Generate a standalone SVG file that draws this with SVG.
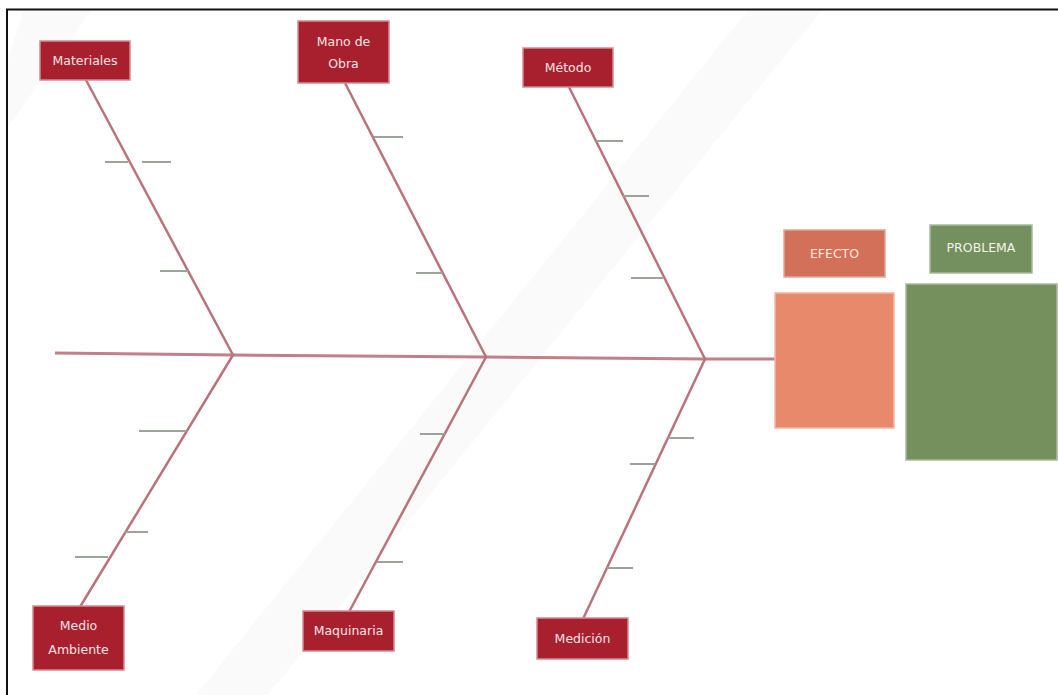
<svg xmlns="http://www.w3.org/2000/svg" width="1058" height="695" viewBox="0 0 1058 695">
  <style>
    .cause rect { fill: #a8202e; stroke: #d58a92; stroke-width: 1.5; }
    .cause text { fill: #f6e4e4; font-family: "Comic Sans MS", "DejaVu Sans", sans-serif; font-size: 12.5px; text-anchor: middle; }
    .bone { stroke: #b9737c; stroke-width: 2.5; fill: none; stroke-linecap: round; }
    .spine { stroke: #c08089; stroke-width: 3; fill: none; }
    .tick { stroke: #9ba39b; stroke-width: 2; fill: none; }
    .head text { font-family: "Comic Sans MS", "DejaVu Sans", sans-serif; font-size: 12.5px; text-anchor: middle; }
  </style>

  <!-- page -->
  <rect x="0" y="0" width="1058" height="695" fill="#ffffff"/>
  <!-- faint diagonal backdrop bands -->
  <polygon points="748,10 822,10 268,695 196,695" fill="#f7f8f6" opacity="0.7"/>
  <polygon points="24,10 92,10 7,128 7,62" fill="#f7f8f6" opacity="0.7"/>
  <!-- frame -->
  <rect x="7" y="9.5" width="1060" height="700" fill="none" stroke="#111" stroke-width="2"/>

  <!-- connectors: spine, bones and sub-cause ticks -->
  <g id="connectors">
    <polyline class="spine" points="55,353 233,355 486,357 705,359 776,359"/>

    <line class="bone" x1="86" y1="80" x2="233" y2="355"/>
    <line class="bone" x1="345" y1="83" x2="486" y2="357"/>
    <line class="bone" x1="569" y1="87" x2="705" y2="359"/>
    <line class="bone" x1="233" y1="355" x2="80" y2="607"/>
    <line class="bone" x1="486" y1="357" x2="349" y2="612"/>
    <line class="bone" x1="705" y1="359" x2="583" y2="619"/>

    <!-- Materiales -->
    <line class="tick" x1="105" y1="162" x2="128" y2="162"/>
    <line class="tick" x1="142" y1="162" x2="171" y2="162"/>
    <line class="tick" x1="160" y1="271" x2="188" y2="271"/>
    <!-- Mano de Obra -->
    <line class="tick" x1="374" y1="137" x2="403" y2="137"/>
    <line class="tick" x1="416" y1="273" x2="443" y2="273"/>
    <!-- Método -->
    <line class="tick" x1="596" y1="141" x2="623" y2="141"/>
    <line class="tick" x1="623" y1="196" x2="649" y2="196"/>
    <line class="tick" x1="631" y1="278" x2="664" y2="278"/>
    <!-- Medio Ambiente -->
    <line class="tick" x1="139" y1="431" x2="187" y2="431"/>
    <line class="tick" x1="125" y1="532" x2="148" y2="532"/>
    <line class="tick" x1="75" y1="557" x2="108" y2="557"/>
    <!-- Maquinaria -->
    <line class="tick" x1="420" y1="434" x2="445" y2="434"/>
    <line class="tick" x1="377" y1="562" x2="403" y2="562"/>
    <!-- Medición -->
    <line class="tick" x1="668" y1="438" x2="694" y2="438"/>
    <line class="tick" x1="630" y1="464" x2="655" y2="464"/>
    <line class="tick" x1="607" y1="568" x2="633" y2="568"/>
  </g>

  <!-- cause categories -->
  <g id="materiales" class="cause">
    <rect x="40" y="41" width="90" height="39"/>
    <text x="85" y="65">Materiales</text>
  </g>
  <g id="mano-de-obra" class="cause">
    <rect x="298" y="21" width="91" height="62"/>
    <text x="343.5" y="46">Mano de</text>
    <text x="343.5" y="68">Obra</text>
  </g>
  <g id="metodo" class="cause">
    <rect x="523" y="48" width="90" height="39"/>
    <text x="568" y="72">Método</text>
  </g>
  <g id="medio-ambiente" class="cause">
    <rect x="33" y="606" width="91" height="64"/>
    <text x="78.5" y="630">Medio</text>
    <text x="78.5" y="654">Ambiente</text>
  </g>
  <g id="maquinaria" class="cause">
    <rect x="303" y="611" width="91" height="40"/>
    <text x="348.5" y="635">Maquinaria</text>
  </g>
  <g id="medicion" class="cause">
    <rect x="537" y="618" width="91" height="41"/>
    <text x="582.5" y="643">Medición</text>
  </g>

  <!-- effect -->
  <g id="efecto" class="head">
    <rect x="784" y="230" width="101" height="47" fill="#d3705a" stroke="#e6a596" stroke-width="1.5"/>
    <text x="834.5" y="258" fill="#fbe9dc">EFECTO</text>
    <rect x="775" y="293" width="119" height="135" fill="#e8896b" stroke="#f1b7a4" stroke-width="1.5"/>
  </g>

  <!-- problem -->
  <g id="problema" class="head">
    <rect x="930" y="225" width="102" height="48" fill="#74905f" stroke="#a9bb9c" stroke-width="1.5"/>
    <text x="981" y="252" fill="#f1f4e6">PROBLEMA</text>
    <rect x="906" y="284" width="151" height="176" fill="#76905d" stroke="#a9bb9c" stroke-width="1.5"/>
  </g>
</svg>
